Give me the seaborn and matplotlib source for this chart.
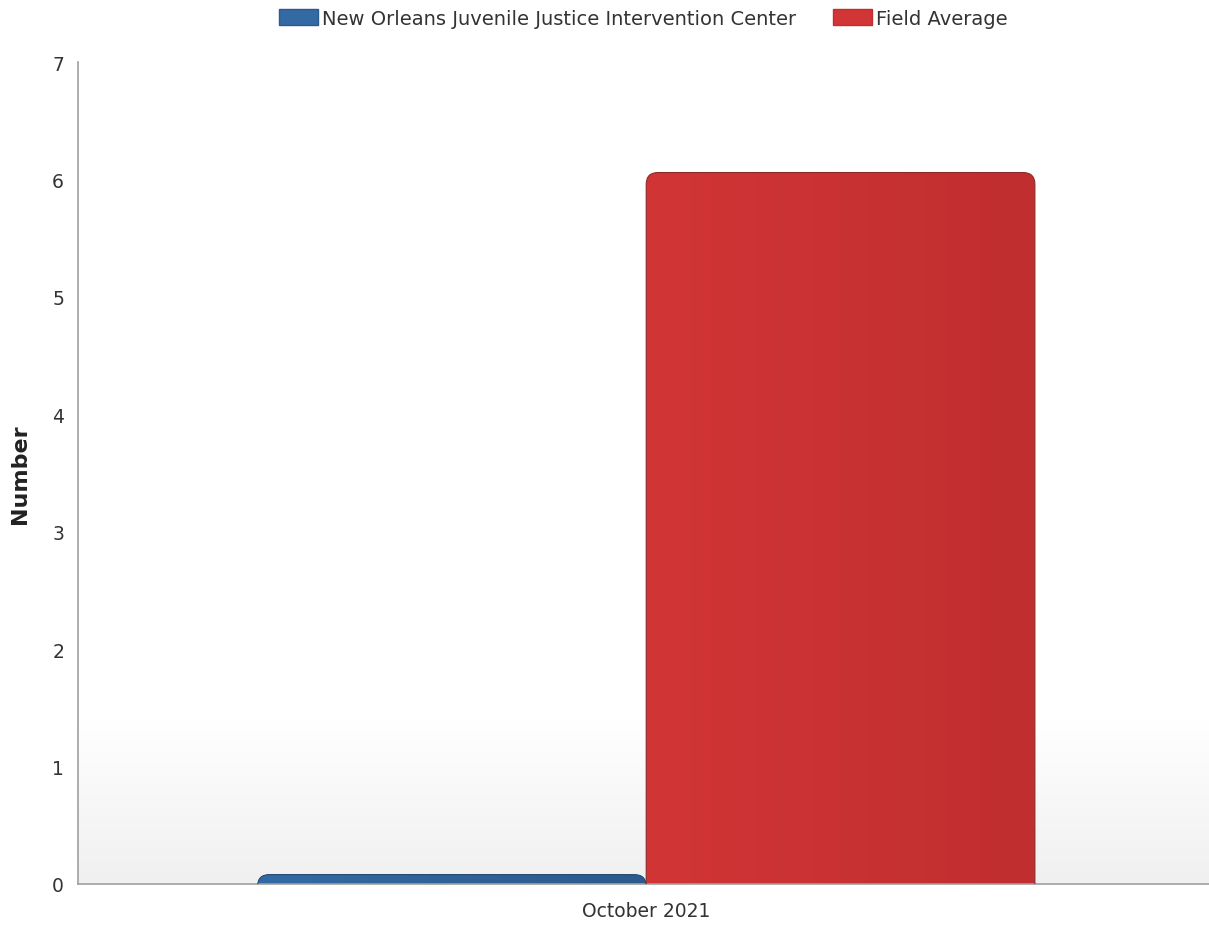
import numpy as np
import pandas as pd
import matplotlib
matplotlib.use("Agg")
import matplotlib.pyplot as plt
import seaborn as sns
from matplotlib.patches import FancyBboxPatch
from matplotlib.colors import LinearSegmentedColormap

categories = ["October 2021"]
series_names = ["New Orleans Juvenile Justice Intervention Center", "Field Average"]
values_center = [0.08]
values_field = [6.06]
yticks = [0, 1, 2, 3, 4, 5, 6, 7]

colors = {"New Orleans Juvenile Justice Intervention Center": ("#336aa3", "#2c5a8c"),
          "Field Average": ("#d23536", "#c02e2f")}

df = pd.DataFrame({
    "Month": categories * 2,
    "Series": [series_names[0]] * len(categories) + [series_names[1]] * len(categories),
    "Value": values_center + values_field,
})

sns.set_theme(style="white")
plt.rcParams['font.family'] = ['DejaVu Sans']

fig = plt.figure(figsize=(12.09, 9.29), dpi=100)
ax = fig.add_axes([0.0645, 0.0474, 0.94, 0.8846])

sns.barplot(data=df, x="Month", y="Value", hue="Series", hue_order=series_names,
            palette=[colors[s][0] for s in series_names], width=0.684, ax=ax,
            legend=False, saturation=1)

ax.set_xlim(-0.5, 0.5)
ax.set_ylim(0, 7)

# background gradient
bg = np.linspace(0, 1, 256).reshape(-1, 1)
bgcmap = LinearSegmentedColormap.from_list("bg", [(0, "#f0f0f0"), (0.2, "#ffffff"), (1, "#ffffff")])
ax.imshow(bg, extent=[-0.5, 0.5, 0, 7], origin="lower", aspect="auto", cmap=bgcmap, zorder=0)

# replace bars with rounded, gradient-filled versions
patches = list(ax.patches)
for p, name in zip(patches, series_names):
    x0, y0 = p.get_x(), p.get_y()
    w, h = p.get_width(), p.get_height()
    p.set_visible(False)
    r = 0.0105
    aspect = 9.6
    fb = FancyBboxPatch((x0, -0.5), w, h + 0.5,
                        boxstyle=f"round,pad=0,rounding_size={r}",
                        mutation_aspect=aspect,
                        facecolor="none", edgecolor="#8a2a2a" if name == "Field Average" else "#244a75",
                        linewidth=0.8, zorder=3)
    ax.add_patch(fb)
    c0, c1 = colors[name]
    cm = LinearSegmentedColormap.from_list("g", [c0, c1])
    grad = np.linspace(0, 1, 256).reshape(1, -1)
    im = ax.imshow(grad, extent=[x0, x0 + w, -0.5, h], origin="lower", aspect="auto",
                   cmap=cm, zorder=2)
    im.set_clip_path(fb)

ax.set_xlim(-0.5, 0.5)
ax.set_ylim(0, 7)

ax.set_yticks(yticks)
ax.set_yticklabels([str(t) for t in yticks])
ax.set_xlabel("")
ax.set_ylabel("Number", fontsize=16, fontweight="bold", color="#222222", labelpad=16)

for s in ["top", "right"]:
    ax.spines[s].set_visible(False)
for s in ["left", "bottom"]:
    ax.spines[s].set_color("#a0a0a0")
    ax.spines[s].set_linewidth(1.2)
ax.tick_params(axis="both", which="both", length=6, width=1.2, color="#a0a0a0",
               labelsize=13.5, labelcolor="#333333", direction="out")
ax.tick_params(axis="y", pad=4)
ax.tick_params(axis="x", pad=6)

# legend
handles = [FancyBboxPatch((0, 0), 1, 1, boxstyle="round,pad=0,rounding_size=0.3",
                          facecolor=colors[s][0], edgecolor=colors[s][1]) for s in series_names]
leg = fig.legend(handles, series_names, loc="upper center", bbox_to_anchor=(0.532, 1.008),
                 ncol=2, frameon=False, fontsize=14, handlelength=2.0, handleheight=0.9,
                 handletextpad=0.2, columnspacing=1.9, labelcolor="#333333")

fig.savefig("out.png", dpi=100)
